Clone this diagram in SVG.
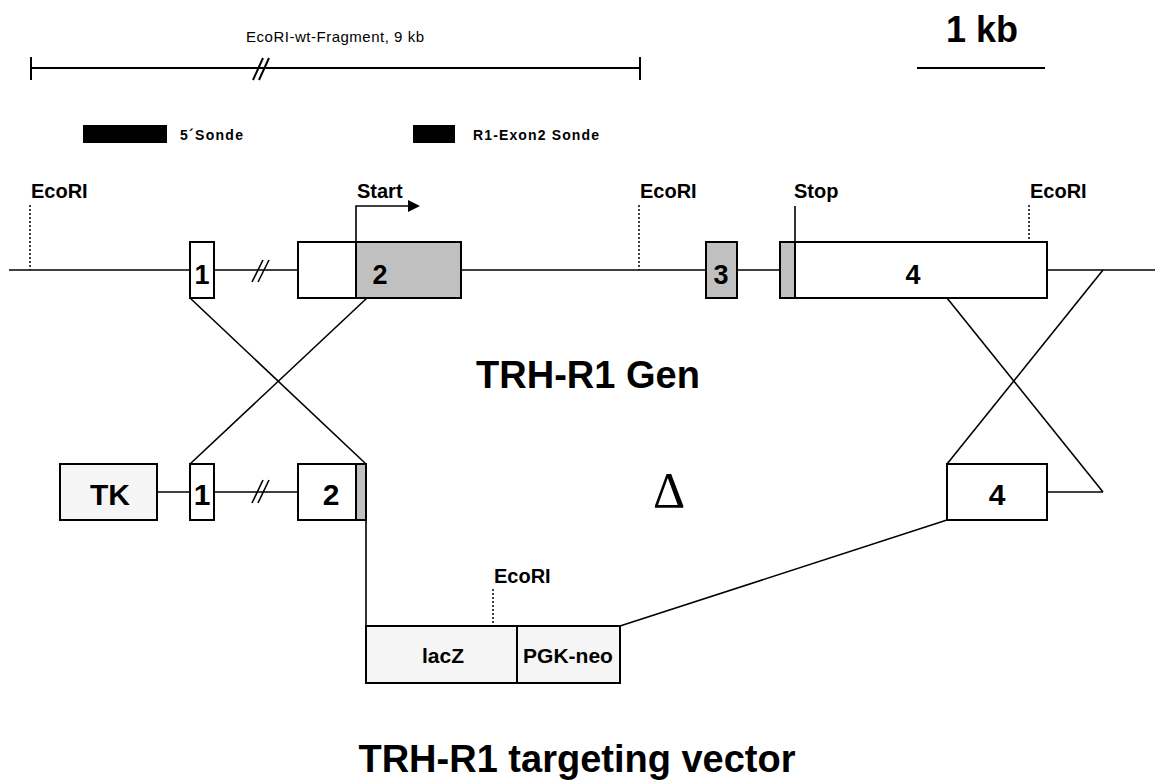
<svg xmlns="http://www.w3.org/2000/svg" width="1155" height="780" viewBox="0 0 1155 780">
<style>
.ln{stroke:#000;stroke-width:2;fill:none}
.thin{stroke:#000;stroke-width:1.6;fill:none}
.dot{stroke:#000;stroke-width:1.5;stroke-dasharray:2 2;fill:none}
.box{stroke:#000;stroke-width:2;fill:#fff}
.gray{stroke:#000;stroke-width:2;fill:#c0c0c0}
.lt{stroke:#000;stroke-width:2;fill:#f5f5f5}
text{font-family:"Liberation Sans",Arial,sans-serif;fill:#000}
.b{font-weight:bold}
.lbl{font-weight:bold;font-size:20px}
.num{font-weight:bold;font-size:27px;text-anchor:middle}
.numv{font-weight:bold;font-size:30px;text-anchor:middle}
.title{font-weight:bold;font-size:38px;text-anchor:middle}
</style>
<rect width="1155" height="780" fill="#fff"/>

<g id="scale">
<text x="335" y="42" font-size="15" text-anchor="middle" textLength="178">EcoRI-wt-Fragment, 9 kb</text>
<line class="ln" x1="31" y1="68" x2="640" y2="68"/>
<line class="ln" x1="31" y1="57" x2="31" y2="80"/>
<line class="ln" x1="640" y1="57" x2="640" y2="80"/>
<line class="ln" x1="253" y1="80" x2="263" y2="58"/>
<line class="ln" x1="259" y1="80" x2="269" y2="58"/>
<text x="982" y="42" class="b" font-size="36" text-anchor="middle">1 kb</text>
<line class="ln" x1="917" y1="68" x2="1045" y2="68"/>
</g>

<g id="probes">
<rect x="83" y="125" width="84" height="18" fill="#000"/>
<text x="180" y="140" class="b" font-size="14" textLength="63">5´Sonde</text>
<rect x="413" y="125" width="42" height="18" fill="#000"/>
<text x="473" y="140" class="b" font-size="14" textLength="126">R1-Exon2 Sonde</text>
</g>

<g id="connectors">
<line class="thin" x1="9" y1="270" x2="190" y2="270"/>
<line class="thin" x1="214" y1="270" x2="298" y2="270"/>
<line class="thin" x1="252" y1="282" x2="263" y2="260"/>
<line class="thin" x1="258" y1="282" x2="269" y2="260"/>
<line class="thin" x1="461" y1="270" x2="706" y2="270"/>
<line class="thin" x1="737" y1="270" x2="780" y2="270"/>
<line class="thin" x1="1047" y1="270" x2="1155" y2="270"/>
<line class="thin" x1="190" y1="298" x2="366" y2="464"/>
<line class="thin" x1="367" y1="298" x2="190" y2="464"/>
<line class="thin" x1="947" y1="298" x2="1103" y2="492"/>
<line class="thin" x1="1103" y1="270" x2="947" y2="464"/>
<line class="thin" x1="1047" y1="492" x2="1103" y2="492"/>
<line class="thin" x1="947" y1="520" x2="620" y2="626"/>
<line class="thin" x1="157" y1="492" x2="190" y2="492"/>
<line class="thin" x1="214" y1="492" x2="298" y2="492"/>
<line class="thin" x1="252" y1="503" x2="263" y2="480"/>
<line class="thin" x1="258" y1="503" x2="269" y2="480"/>
<line class="thin" x1="366" y1="520" x2="366" y2="626"/>
</g>

<g id="sites">
<line class="dot" x1="30" y1="205" x2="30" y2="270"/>
<text x="31" y="198" class="lbl">EcoRI</text>
<line class="dot" x1="639" y1="205" x2="639" y2="270"/>
<text x="640" y="198" class="lbl">EcoRI</text>
<line class="dot" x1="1029" y1="205" x2="1029" y2="242"/>
<text x="1030" y="198" class="lbl">EcoRI</text>
<line class="thin" x1="795" y1="206" x2="795" y2="242"/>
<text x="794" y="198" class="lbl">Stop</text>
<polyline class="thin" points="356,242 356,206 410,206"/>
<polygon points="408,200 420,206 408,212" fill="#000"/>
<text x="357" y="198" class="lbl">Start</text>
<line class="dot" x1="493" y1="589" x2="493" y2="626"/>
<text x="494" y="583" class="lbl">EcoRI</text>
</g>

<g id="exon1">
<rect class="box" x="190" y="242" width="24" height="56"/>
<text x="202" y="284" class="num">1</text>
</g>
<g id="exon2">
<rect class="box" x="298" y="242" width="58" height="56"/>
<rect class="gray" x="356" y="242" width="105" height="56"/>
<text x="380" y="284" class="num">2</text>
</g>
<g id="exon3">
<rect class="gray" x="706" y="242" width="31" height="56"/>
<text x="721" y="284" class="num">3</text>
</g>
<g id="exon4">
<rect class="gray" x="780" y="242" width="15" height="56"/>
<rect class="box" x="795" y="242" width="252" height="56"/>
<text x="913" y="284" class="num">4</text>
</g>

<g id="title-gene">
<text x="588" y="388" class="title">TRH-R1 Gen</text>
</g>

<g id="tk">
<rect class="lt" x="60" y="464" width="97" height="56"/>
<text x="110" y="505" class="numv">TK</text>
</g>
<g id="v-exon1">
<rect class="box" x="190" y="464" width="24" height="56"/>
<text x="202" y="505" class="numv">1</text>
</g>
<g id="v-exon2">
<rect class="box" x="298" y="464" width="58" height="56"/>
<rect class="gray" x="356" y="464" width="10" height="56"/>
<text x="331" y="505" class="numv">2</text>
</g>
<g id="delta">
<text x="669" y="507" font-size="50" text-anchor="middle" style="font-family:'Liberation Serif',serif">Δ</text>
</g>
<g id="v-exon4">
<rect class="box" x="947" y="464" width="100" height="56"/>
<text x="997" y="505" class="numv">4</text>
</g>
<g id="lacz">
<rect class="lt" x="366" y="626" width="151" height="57"/>
<text x="443" y="663" class="b" font-size="21" text-anchor="middle">lacZ</text>
</g>
<g id="pgkneo">
<rect class="lt" x="517" y="626" width="103" height="57"/>
<text x="568" y="663" class="b" font-size="21" text-anchor="middle">PGK-neo</text>
</g>

<g id="title-vector">
<text x="577" y="772" class="title">TRH-R1 targeting vector</text>
</g>
</svg>
